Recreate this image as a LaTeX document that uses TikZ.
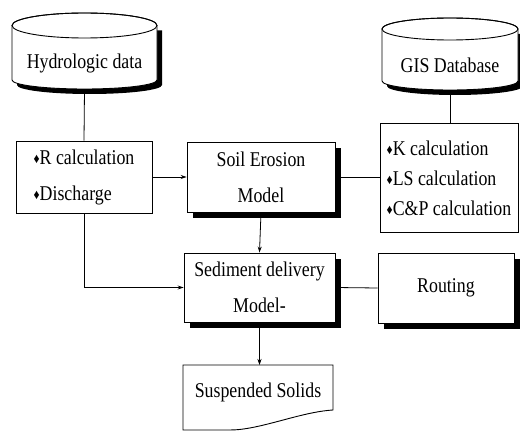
\documentclass[tikz,border=0pt]{standalone}
\usepackage{fontspec}
\newfontfamily\tms{Liberation Serif}[FakeStretch=0.85]
\usetikzlibrary{shadows,arrows.meta}

\newcommand{\dmd}{\raisebox{1pt}{\fontsize{14}{14}\selectfont♦}}

\tikzset{
	lbl/.style={font=\tms\fontsize{21}{36}\selectfont, inner sep=0pt},
	shade box/.style={drop shadow={shadow xshift=6pt, shadow yshift=-6pt, fill=black, opacity=1}},
	store/.style={lbl, rectangle, align=center},
	model/.style={lbl, rectangle, draw, fill=white, align=center, shade box},
	calc/.style={lbl, rectangle, draw, fill=white, align=left},
	link/.style={line width=0.8pt},
	flow/.style={line width=0.8pt, -{Stealth[length=6pt,width=4pt]}}
}

\begin{document}
\begin{tikzpicture}[x=1pt, y=-1pt, line width=0.9pt]
		\useasboundingbox (0,0) rectangle (520,433);

		% data stores (cylinders)
		\fill[xshift=5pt, yshift=-5pt] (12,25.5) -- (12,80)
			arc[start angle=180, end angle=360, x radius=72.5pt, y radius=9pt] -- (157,25.5) -- cycle;
		\draw[fill=white] (12,25.5) -- (12,80)
			arc[start angle=180, end angle=360, x radius=72.5pt, y radius=9pt] -- (157,25.5)
			arc[start angle=0, end angle=180, x radius=72.5pt, y radius=12.5pt] -- cycle;
		\draw (84.5,25.5) ellipse [x radius=72.5pt, y radius=12.5pt];
		\node[store, minimum width=145pt, minimum height=51pt] (hydro) at (84.5,63.5) {Hydrologic data};

		\fill[xshift=5pt, yshift=-5pt] (382,29) -- (382,81)
			arc[start angle=180, end angle=360, x radius=68pt, y radius=9pt] -- (518,29) -- cycle;
		\draw[fill=white] (382,29) -- (382,81)
			arc[start angle=180, end angle=360, x radius=68pt, y radius=9pt] -- (518,29)
			arc[start angle=0, end angle=180, x radius=68pt, y radius=11pt] -- cycle;
		\draw (450,29) ellipse [x radius=68pt, y radius=11pt];
		\node[store, minimum width=136pt, minimum height=50pt] (gis) at (450,65) {GIS Database};

		% calculation boxes
		\node[calc, minimum width=136pt, minimum height=72pt] (rcalc) at (84,177)
			{\dmd R calculation\\
			 \dmd Discharge};
		\node[calc, font=\tms\fontsize{21}{30}\selectfont, minimum width=138pt, minimum height=109pt] (kcalc) at (449,178)
			{\dmd K calculation\\
			 \dmd LS calculation\\
			 \dmd C\&P calculation};

		% models
		\node[model, minimum width=148pt, minimum height=70pt] (soil) at (261,177) {Soil Erosion\\Model};
		\node[model, minimum width=151pt, minimum height=69pt] (sed) at (259.5,287.5) {Sediment delivery\\Model-};
		\node[model, minimum width=136pt, minimum height=70pt] (rout) at (446,288) {Routing};

		% output document
		\draw (183,365) -- (333,365) -- (333,410)
			.. controls (300,412) and (260,430) .. (230,430) -- (183,430) -- cycle;
		\node[lbl] (susp) at (258,392) {Suspended Solids};

		% connectors
		\draw[link] (hydro.south) -- (rcalc.north);
		\draw[link] (gis.south) -- (gis.south |- kcalc.north);
		\draw[flow] (rcalc.east) -- (soil.west);
		\draw[link] (soil.east) -- (soil.east -| kcalc.west);
		\draw[flow] (soil.south) -- (sed.north);
		\draw[flow] (rcalc.south) -- (rcalc.south |- sed.west) -- (sed.west);
		\draw[link] (sed.east) -- (rout.west);
		\draw[flow] (sed.south) -- (sed.south |- 0,365);
\end{tikzpicture}
\end{document}
